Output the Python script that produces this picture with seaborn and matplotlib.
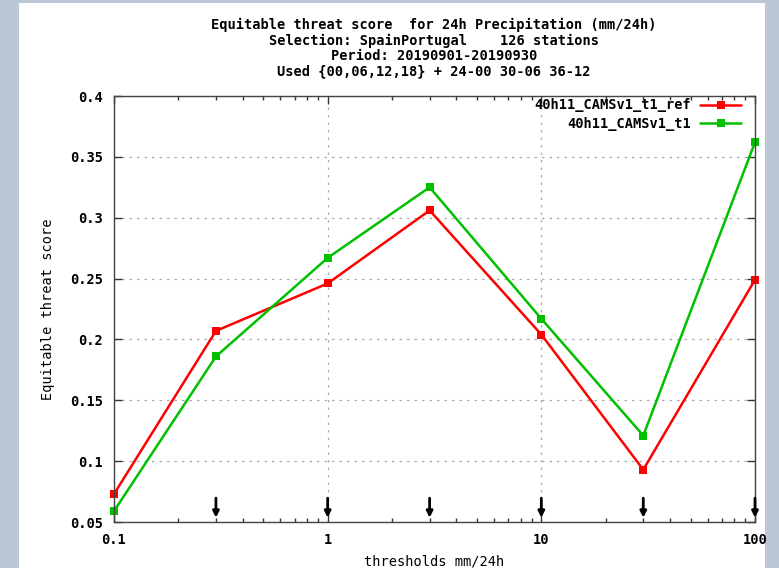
import pandas as pd
import numpy as np
import matplotlib.pyplot as plt
import seaborn as sns
from matplotlib.patches import Rectangle
from matplotlib.ticker import FixedLocator, FixedFormatter, LogLocator, NullFormatter

thresholds = [0.1, 0.3, 1, 3, 10, 30, 100]
ets_ref = [0.073, 0.207, 0.246, 0.306, 0.204, 0.093, 0.249]
ets_t1 = [0.059, 0.186, 0.267, 0.325, 0.217, 0.121, 0.362]
series_names = ['40h11_CAMSv1_t1_ref', '40h11_CAMSv1_t1']
y_ticks = [0.05, 0.1, 0.15, 0.2, 0.25, 0.3, 0.35, 0.4]
y_labels = ['0.05', '0.1', '0.15', '0.2', '0.25', '0.3', '0.35', '0.4']
x_ticks = [0.1, 1, 10, 100]
x_labels = ['0.1', '1', '10', '100']
title_lines = ['Equitable threat score  for 24h Precipitation (mm/24h)',
               'Selection: SpainPortugal    126 stations',
               'Period: 20190901-20190930',
               'Used {00,06,12,18} + 24-00 30-06 36-12']

df = pd.DataFrame({
    'threshold': thresholds * 2,
    'ets': ets_ref + ets_t1,
    'exp': [series_names[0]] * len(thresholds) + [series_names[1]] * len(thresholds),
})

sns.set_style('ticks')
plt.rcParams['font.family'] = ['DejaVu Sans Mono']
plt.rcParams['font.weight'] = 'bold'
plt.rcParams['text.color'] = 'black'
plt.rcParams['axes.labelcolor'] = 'black'
fs = 9.8

fig = plt.figure(figsize=(7.79, 5.68), dpi=100)
fig.patch.set_facecolor('#bac5d5')
# white page behind the plot
fig.patches.append(Rectangle((19/779, 0), (765-19)/779, 565/568, transform=fig.transFigure,
                             facecolor='white', edgecolor='none', zorder=-5))

ax = fig.add_axes([114/779, 46/568, 641/779, 426/568])
ax.set_zorder(1)
sns.lineplot(data=df, x='threshold', y='ets', hue='exp', hue_order=series_names,
             palette=['#ff0000', '#00c000'], marker='s', markersize=6, markeredgewidth=0,
             linewidth=1.8, ax=ax, clip_on=False)
ax.set_xscale('log')
ax.set_xlim(0.1, 100)
ax.set_ylim(0.05, 0.4)

ax.xaxis.set_major_locator(FixedLocator(x_ticks))
ax.xaxis.set_major_formatter(FixedFormatter(x_labels))
ax.xaxis.set_minor_locator(LogLocator(base=10, subs=np.arange(2, 10)))
ax.xaxis.set_minor_formatter(NullFormatter())
ax.yaxis.set_major_locator(FixedLocator(y_ticks))
ax.yaxis.set_major_formatter(FixedFormatter(y_labels))

ax.tick_params(which='both', direction='in', top=True, right=True, colors='#333333',
               labelcolor='black', labelsize=fs, pad=8)
ax.tick_params(which='major', length=6, width=1)
ax.tick_params(which='minor', length=3, width=1)
for s in ax.spines.values():
    s.set_color('#444444')
    s.set_linewidth(1)

ax.grid(True, which='major', color='#aaaaaa', linestyle=(0, (2, 4)), linewidth=0.9)

# threshold arrows along the bottom
for t in thresholds[1:]:
    ax.annotate('', xy=(t, 0.010), xytext=(t, 0.056),
                xycoords=('data', 'axes fraction'), textcoords=('data', 'axes fraction'),
                arrowprops=dict(arrowstyle='-|>', color='black', lw=2, mutation_scale=9,
                                shrinkA=0, shrinkB=0))

ax.set_xlabel('thresholds mm/24h', fontsize=fs, labelpad=5)
ax.set_ylabel('Equitable threat score', fontsize=fs)
ax.yaxis.set_label_coords((55 - 114) / 641, 0.5)

for i, line in enumerate(title_lines):
    fig.text(434/779, 1 - (25 + i * 15.5) / 568, line, ha='center', va='center', fontsize=fs)

leg = ax.legend(loc='upper right', markerfirst=False, frameon=False, fontsize=fs,
                handlelength=3.0, handletextpad=0.7, borderaxespad=0.0, labelspacing=0.3,
                bbox_to_anchor=(0.987, 1.007))

fig.savefig('out.png', dpi=100, facecolor=fig.get_facecolor())
